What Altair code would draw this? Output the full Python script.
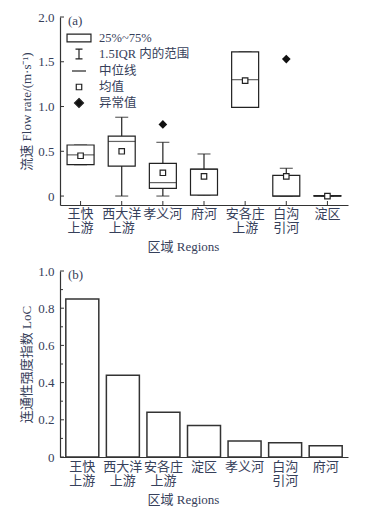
import altair as alt
import pandas as pd

FONT = "Liberation Serif, Noto Sans CJK SC"
TXT = "#36405a"
AX = "#333333"

# ---------- panel (a) data ----------
regions_a = ["王快上游", "西大洋上游", "孝义河", "府河", "安各庄上游", "白沟引河", "淀区"]
labels_a = [["王快", "上游"], ["西大洋", "上游"], ["孝义河"], ["府河"], ["安各庄", "上游"], ["白沟", "引河"], ["淀区"]]
q1 = [0.35, 0.335, 0.085, 0.01, 0.99, 0.0, 0.0]
q3 = [0.57, 0.67, 0.365, 0.30, 1.61, 0.23, 0.005]
median = [0.46, 0.61, 0.15, 0.30, 1.30, 0.0, 0.0]
mean = [0.45, 0.50, 0.26, 0.22, 1.29, 0.22, 0.0]
wlo = [0.35, 0.0, 0.0, 0.01, 0.99, 0.0, 0.0]
whi = [0.57, 0.88, 0.60, 0.47, 1.61, 0.31, 0.005]
out_region = ["孝义河", "白沟引河"]
out_value = [0.80, 1.53]
yticks_a = [0, 0.5, 1.0, 1.5, 2.0]

legend_items = ["25%~75%", "1.5IQR 内的范围", "中位线", "均值", "异常值"]

# ---------- panel (b) data ----------
regions_b = ["王快上游", "西大洋上游", "安各庄上游", "淀区", "孝义河", "白沟引河", "府河"]
labels_b = [["王快", "上游"], ["西大洋", "上游"], ["安各庄", "上游"], ["淀区"], ["孝义河"], ["白沟", "引河"], ["府河"]]
loc = [0.85, 0.44, 0.24, 0.17, 0.086, 0.077, 0.061]
yticks_b = [0, 0.2, 0.4, 0.6, 0.8, 1.0]
yminor_b = [0.1, 0.3, 0.5, 0.7, 0.9]

W = 288
HA = 188
HB = 186


def label_expr(cats, labs):
    parts = []
    for c, l in zip(cats, labs):
        arr = "[" + ",".join("'" + s + "'" for s in l) + "]"
        parts.append("'" + c + "':" + arr)
    return "{" + ",".join(parts) + "}[datum.label]"


df_a = pd.DataFrame({"region": regions_a, "q1": q1, "q3": q3, "median": median,
                     "mean": mean, "lo": wlo, "hi": whi})
df_out = pd.DataFrame({"region": out_region, "v": out_value})
df_ta = pd.DataFrame({"v": yticks_a})
df_xa = pd.DataFrame({"region": regions_a})

xa_scale = alt.Scale(domain=regions_a, paddingInner=0, paddingOuter=0)
xa_axis = alt.Axis(title="区域 Regions", labelExpr=label_expr(regions_a, labels_a),
                   labelAngle=0, ticks=False, labelPadding=2, labelLineHeight=14,
                   titlePadding=6, titleX=123)
ya_scale = alt.Scale(domain=[-0.1, 2.0], nice=False, zero=False)
ya_axis = alt.Axis(title="流速 Flow rate/(m·s⁻¹)", values=yticks_a, ticks=False,
                   labelExpr="datum.value == 0 ? '0' : format(datum.value, '.1f')",
                   labelPadding=6, grid=False)


def XA():
    return alt.X("region:N", scale=xa_scale, axis=xa_axis, sort=regions_a)


def YA(f):
    return alt.Y(f, scale=ya_scale, axis=ya_axis)


base = alt.Chart(df_a)
whisk = base.mark_rule(color="#222", strokeWidth=1.2).encode(
    x=XA(), y=YA("lo:Q"), y2="hi:Q")
cap_lo = base.mark_tick(color="#222", size=13, thickness=1.2).encode(x=XA(), y=YA("lo:Q"))
cap_hi = base.mark_tick(color="#222", size=13, thickness=1.2).encode(x=XA(), y=YA("hi:Q"))
box = base.mark_bar(fill="white", stroke="#222", strokeWidth=1.2, size=27).encode(
    x=XA(), y=YA("q1:Q"), y2="q3:Q")
med = base.mark_tick(color="#222", size=27, thickness=1.2).encode(x=XA(), y=YA("median:Q"))
mn = base.mark_point(shape="square", size=30, filled=True, fill="white", stroke="#222",
                     strokeWidth=1.2, opacity=1).encode(x=XA(), y=YA("mean:Q"))
outl = alt.Chart(df_out).mark_point(shape="diamond", size=75, filled=True, color="#111",
                                    opacity=1).encode(x=XA(), y=YA("v:Q"))
ytick_a = alt.Chart(df_ta).mark_rule(color=AX, strokeWidth=1).encode(
    y=YA("v:Q"), x=alt.value(0), x2=alt.value(4))
xtick_a = alt.Chart(df_xa).mark_rule(color=AX, strokeWidth=1).encode(
    x=XA(), y=alt.value(HA), y2=alt.value(HA - 4))

paths = [
    "M-1.71,-0.55H1.71V0.55H-1.71Z",
    "M-0.5,-0.71H0.5M0,-0.71V0.71M-0.5,0.71H0.5",
    "M-1,0H1",
    "M-0.39,-0.39H0.39V0.39H-0.39Z",
    "M0,-0.64L0.64,0L0,0.64L-0.64,0Z",
]
fills = ["white", "transparent", "transparent", "white", "#111"]
strokes = ["#222"] * 5
leg = alt.Legend(title=None, orient="none", legendX=11, legendY=13, padding=0,
                 labelFont=FONT, labelFontSize=12.5, labelColor=TXT, labelOffset=12,
                 rowPadding=1, symbolSize=196, symbolStrokeWidth=1.2)
df_leg = pd.DataFrame({"item": legend_items})
legend_layer = alt.Chart(df_leg).transform_filter("false").mark_point(
    filled=True, strokeWidth=1.2, opacity=1).encode(
    x=XA(), y=YA("v:Q"),
    shape=alt.Shape("item:N", scale=alt.Scale(domain=legend_items, range=paths), legend=leg),
    fill=alt.Fill("item:N", scale=alt.Scale(domain=legend_items, range=fills), legend=leg),
    stroke=alt.Stroke("item:N", scale=alt.Scale(domain=legend_items, range=strokes), legend=leg),
)
tag_a = alt.Chart(pd.DataFrame({"t": ["(a)"]})).mark_text(
    align="left", baseline="middle", font=FONT, fontSize=13, color=TXT).encode(
    text="t:N", x=alt.value(8), y=alt.value(4))

top = alt.layer(whisk, cap_lo, cap_hi, box, med, mn, outl, ytick_a, xtick_a,
                legend_layer, tag_a).properties(width=W, height=HA)

# ---------- panel (b) ----------
df_b = pd.DataFrame({"region": regions_b, "loc": loc})
df_tb = pd.DataFrame({"v": yticks_b})
df_mb = pd.DataFrame({"v": yminor_b})
yb_scale = alt.Scale(domain=[0, 1.0], nice=False)
yb_axis = alt.Axis(title="连通性强度指数 LoC", values=yticks_b, ticks=False,
                   labelExpr="datum.value == 0 ? '0' : format(datum.value, '.1f')",
                   labelPadding=6, grid=False)
xb_scale = alt.Scale(domain=regions_b, paddingInner=0, paddingOuter=0.05)
xb_axis = alt.Axis(title="区域 Regions", labelExpr=label_expr(regions_b, labels_b),
                   labelAngle=0, ticks=False, labelPadding=3, labelLineHeight=14,
                   titlePadding=6, titleX=123)


def YB(f):
    return alt.Y(f, scale=yb_scale, axis=yb_axis)


bars = alt.Chart(df_b).mark_bar(fill="white", stroke="#333", strokeWidth=1.5, size=33).encode(
    x=alt.X("region:N", scale=xb_scale, axis=xb_axis, sort=regions_b),
    y=YB("loc:Q"))
ytick_b = alt.Chart(df_tb).mark_rule(color=AX, strokeWidth=1).encode(
    y=YB("v:Q"), x=alt.value(0), x2=alt.value(4))
ymin_b = alt.Chart(df_mb).mark_rule(color=AX, strokeWidth=1).encode(
    y=YB("v:Q"), x=alt.value(0), x2=alt.value(3))
tag_b = alt.Chart(pd.DataFrame({"t": ["(b)"]})).mark_text(
    align="left", baseline="middle", font=FONT, fontSize=13, color=TXT).encode(
    text="t:N", x=alt.value(8), y=alt.value(4))

bottom = alt.layer(bars, ytick_b, ymin_b, tag_b).properties(width=W, height=HB)

chart = alt.vconcat(top, bottom, spacing=12).properties(
    padding={"left": 12, "top": 3, "right": 5, "bottom": 5},
    background="white",
).configure_view(stroke=None).configure_axis(
    domainColor=AX, domainWidth=1.2, labelFont=FONT, labelFontSize=13, labelColor=TXT,
    titleFont=FONT, titleFontSize=13, titleColor=TXT, titleFontWeight="normal"
)

chart.save("out.html", embed_options={"renderer": "svg", "actions": False})
